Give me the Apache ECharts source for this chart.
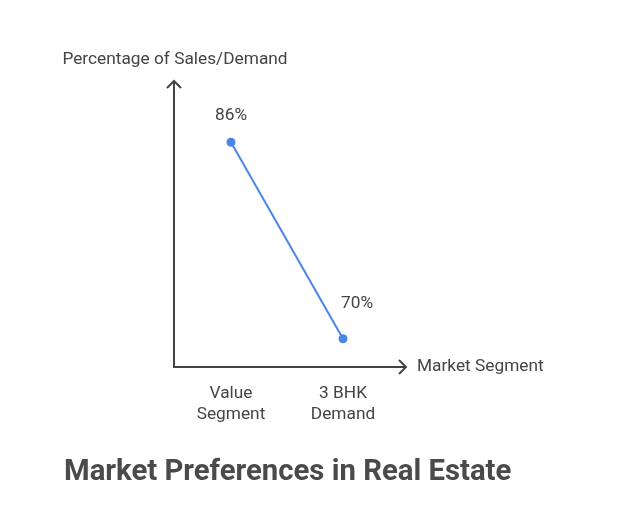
<!DOCTYPE html>
<html>
<head>
<meta charset="utf-8">
<script src="https://cdn.jsdelivr.net/npm/echarts@6/dist/echarts.min.js"></script>
<style>
html,body{margin:0;padding:0;background:#fff;}
#c{width:641px;height:527px;}
</style>
</head>
<body>
<div id="c"></div>
<script>
// ---- data ----
var categories = ['Value\nSegment', '3 BHK\nDemand'];
var values = [86, 70];
var valueLabels = ['86%', '70%'];
var chartTitle = 'Market Preferences in Real Estate';
var xAxisName = 'Market Segment';
var yAxisName = 'Percentage of Sales/Demand';

// ---- layout / style ----
var W = 641, H = 527;
var G = {left: 175, right: 242, top: 82, bottom: 160};
var yMin = 67.7, yMax = 90.9;
var labelOffsets = [[0, -4], [14, -12]];
var axisColor = '#444444';
var textColor = '#444444';
var lineColor = '#4a86e8';
var FONT = 'Roboto, "Noto Sans", sans-serif';
var FS = 17.3;

var chart = echarts.init(document.getElementById('c'), null, {renderer: 'canvas'});

var seriesData = values.map(function (v, i) {
  return {
    value: v,
    label: {formatter: valueLabels[i], offset: labelOffsets[i]}
  };
});

var ox = G.left - 1, oy = H - G.bottom;
var xEnd = W - G.right + 7, yEnd = G.top - 1;

chart.setOption({
  animation: false,
  backgroundColor: '#ffffff',
  textStyle: {fontFamily: FONT},
  title: {
    text: chartTitle,
    left: 64, top: 458, padding: 0,
    textStyle: {fontFamily: FONT, fontSize: 29.3, fontWeight: 'bold', color: '#4a4a4a'}
  },
  grid: G,
  xAxis: {
    type: 'category',
    data: categories,
    boundaryGap: true,
    axisLine: {show: false},
    axisTick: {show: false},
    splitLine: {show: false},
    axisLabel: {color: textColor, fontSize: FS, lineHeight: 21, margin: 16, fontFamily: FONT},
    name: xAxisName,
    nameLocation: 'end',
    nameGap: 18,
    nameTextStyle: {color: textColor, fontSize: FS, fontFamily: FONT, align: 'left', verticalAlign: 'middle', padding: [8, 0, 0, 0]}
  },
  yAxis: {
    type: 'value',
    min: yMin, max: yMax,
    axisLine: {show: false},
    axisTick: {show: false},
    axisLabel: {show: false},
    splitLine: {show: false},
    name: yAxisName,
    nameLocation: 'end',
    nameGap: 14,
    nameTextStyle: {color: textColor, fontSize: FS, fontFamily: FONT, align: 'center', verticalAlign: 'bottom', padding: 0}
  },
  series: [{
    type: 'line',
    data: seriesData,
    symbol: 'circle',
    symbolSize: 9,
    itemStyle: {color: lineColor},
    lineStyle: {color: lineColor, width: 2},
    label: {show: true, position: 'top', color: textColor, fontSize: FS, fontFamily: FONT, distance: 10}
  }],
  graphic: [
    {type: 'polyline', shape: {points: [[ox, yEnd], [ox, oy], [xEnd, oy]]}, style: {stroke: axisColor, lineWidth: 2, fill: null}, z: 1},
    {type: 'polyline', shape: {points: [[xEnd - 7, oy - 7], [xEnd, oy], [xEnd - 7, oy + 7]]}, style: {stroke: axisColor, lineWidth: 2, fill: null}, z: 1},
    {type: 'polyline', shape: {points: [[ox - 7, yEnd + 7], [ox, yEnd], [ox + 7, yEnd + 7]]}, style: {stroke: axisColor, lineWidth: 2, fill: null}, z: 1}
  ]
});
</script>
</body>
</html>
